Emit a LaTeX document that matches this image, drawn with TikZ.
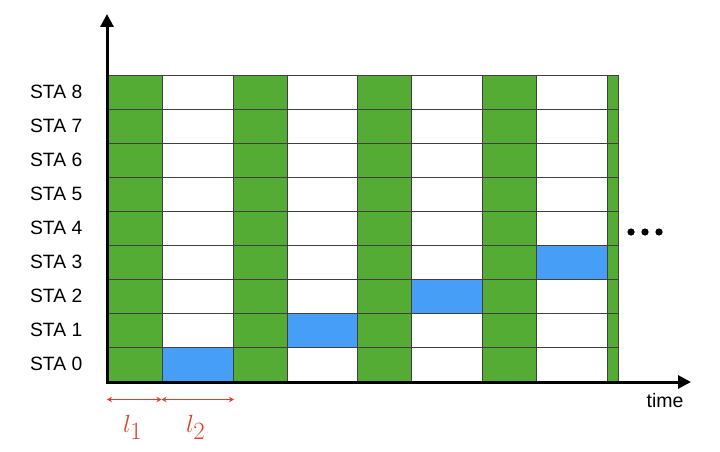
\documentclass[tikz,border=0pt]{standalone}
\usepackage{fontspec}
\setmainfont{Liberation Sans}
\usetikzlibrary{arrows.meta}
\definecolor{slotgreen}{RGB}{84,172,52}
\definecolor{slotblue}{RGB}{70,158,246}
\definecolor{lred}{RGB}{222,62,40}
\tikzset{
  cellbox/.style={draw=black!75, line width=0.6pt},
  stalabel/.style={anchor=east, inner sep=0pt, font=\fontsize{19.3}{21}\selectfont},
  axisline/.style={line width=3pt, -{Triangle[length=13pt,width=13pt]}},
  lenarrow/.style={lred, line width=0.9pt, {Stealth[length=5pt,width=5.5pt]}-{Stealth[length=5pt,width=5.5pt]}},
  lenlabel/.style={lred, inner sep=0pt, anchor=base west, font=\fontsize{34}{36}\selectfont},
}
\begin{document}
\begin{tikzpicture}[x=1pt, y=-1pt]
\useasboundingbox (0,0) rectangle (720,452);
\def\edges{{107,162,233,287,357,411,482,536,607,618}}
% cells
\foreach \r in {0,...,8}{
  \foreach \c in {0,...,8}{
    \pgfmathsetmacro{\xa}{\edges[\c]}
    \pgfmathsetmacro{\xb}{\edges[\c+1]}
    \pgfmathsetmacro{\ya}{75+34*(8-\r)}
    \pgfmathtruncatemacro{\isgreen}{mod(\c,2)==0 ? 1 : 0}
    \pgfmathtruncatemacro{\isblue}{(mod(\c,2)==1 && \c==2*\r+1) ? 1 : 0}
    \ifnum\isgreen=1
      \def\cellcol{slotgreen}
    \else
      \ifnum\isblue=1 \def\cellcol{slotblue}\else\def\cellcol{white}\fi
    \fi
    \node[cellbox, fill=\cellcol, minimum width={(\xb-\xa)*1pt}, minimum height=34pt, inner sep=0pt, anchor=north west] (cell-\r-\c) at (\xa,\ya) {};
  }
  \node[stalabel] (sta\r) at (82.5,{75+34*(8-\r)+17}) {STA \r};
}
% axes
\coordinate (origin) at (107,383.5);
\coordinate (ytip) at (107,14);
\coordinate (xstart) at (105.5,382);
\coordinate (xtip) at (691,382);
\draw[axisline] (origin) -- (ytip);
\draw[axisline] (xstart) -- (xtip);
\node[inner sep=0pt, anchor=base, font=\fontsize{19.5}{21}\selectfont] (timelabel) at (665,407) {time};
% dots
\fill (631,232) circle (3.6) (645,232) circle (3.6) (659,232) circle (3.6);
% lengths
\coordinate (la) at (107,399.5);
\coordinate (lb) at (161.5,399.5);
\coordinate (lc) at (234,399.5);
\draw[lenarrow] (la) -- (lb);
\draw[lenarrow] (lb) -- (lc);
\node[lenlabel] (l1) at (123,432) {$l_1$};
\node[lenlabel] (l2) at (186,432) {$l_2$};
\end{tikzpicture}
\end{document}
